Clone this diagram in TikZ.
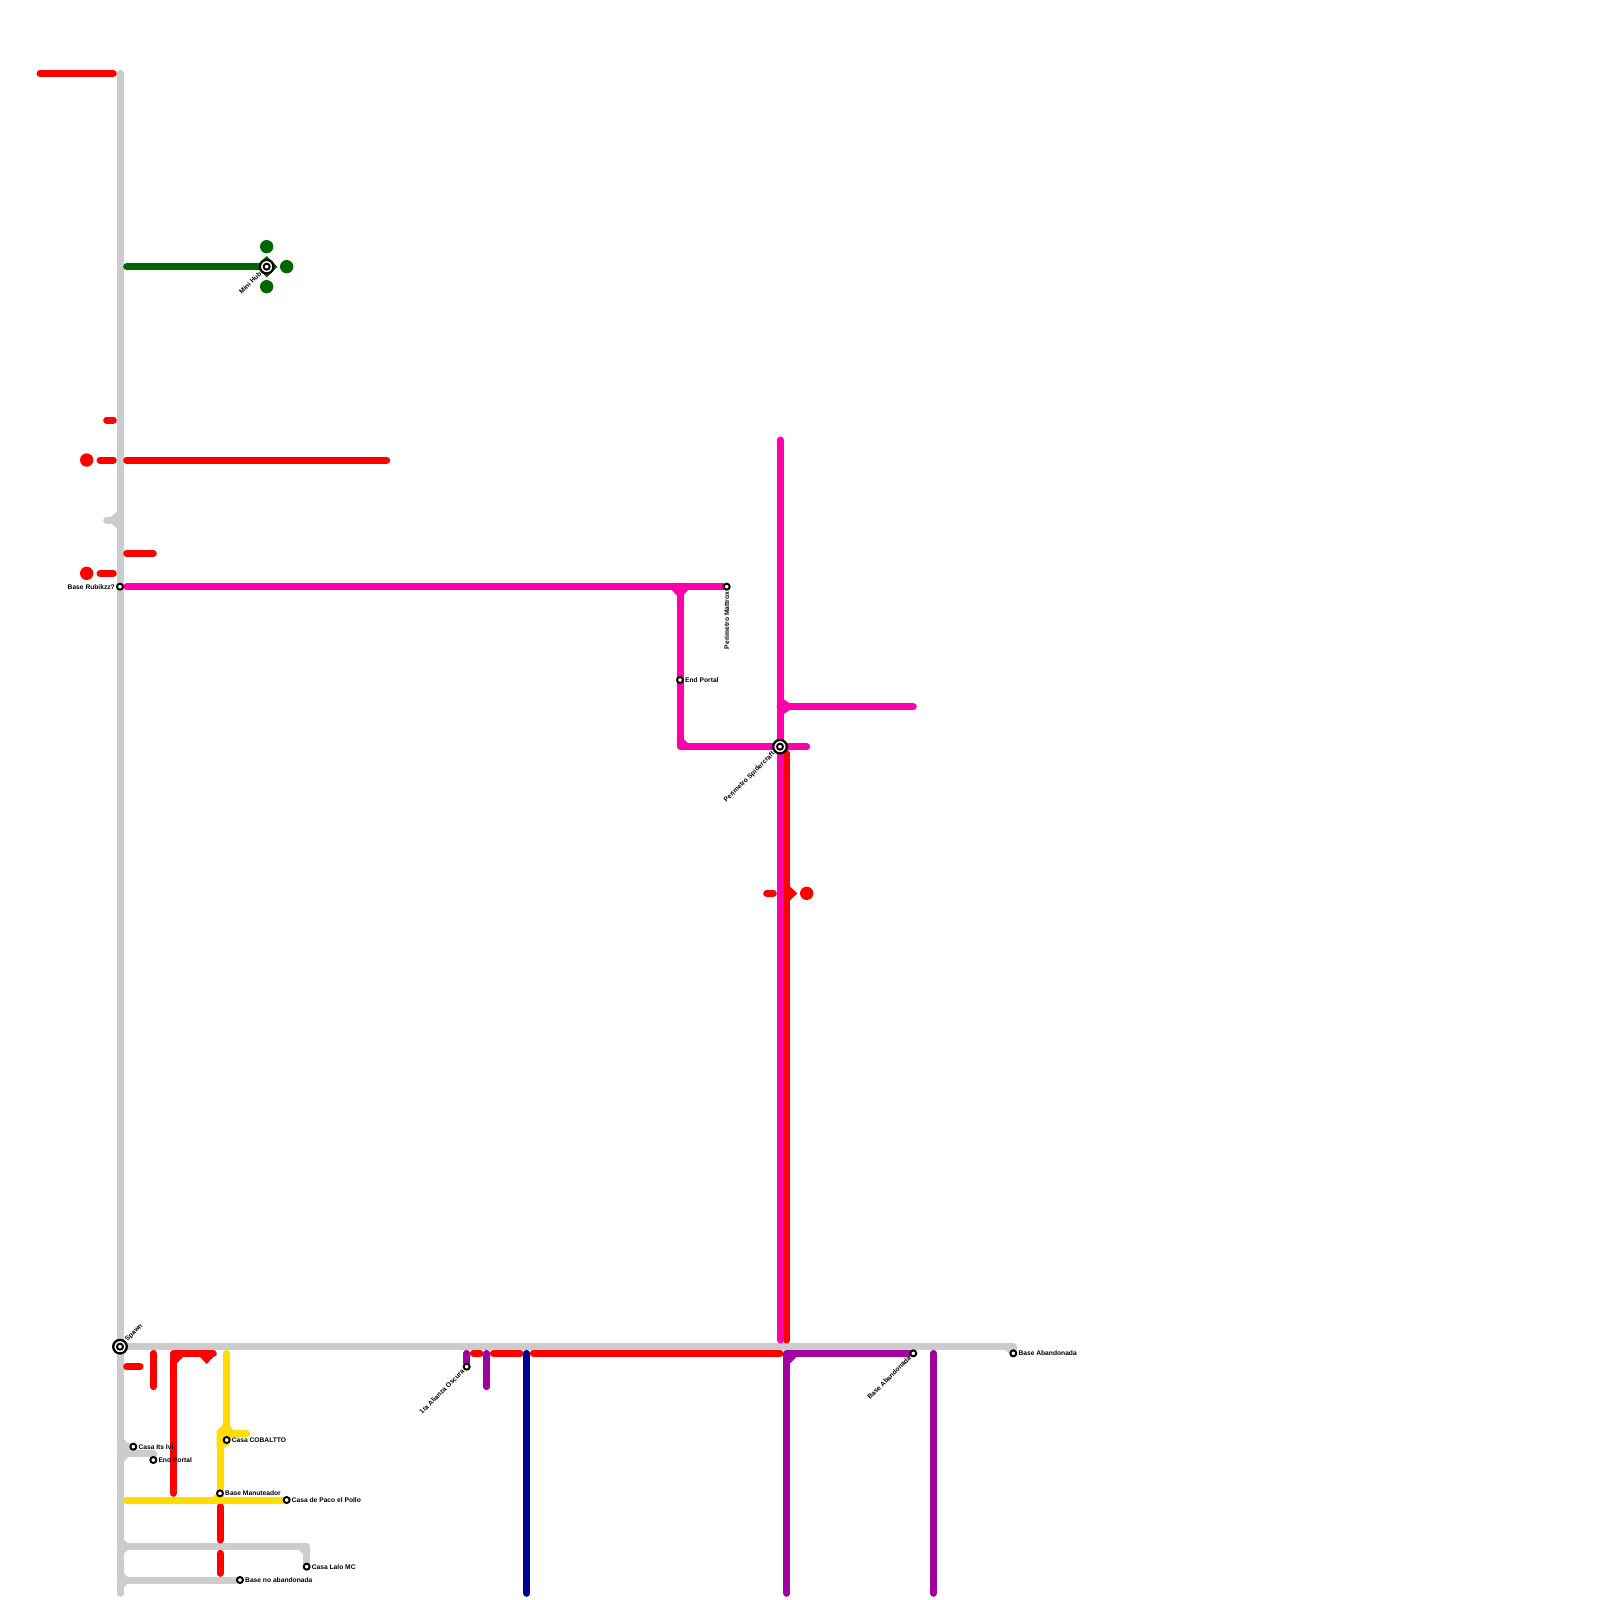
\documentclass[tikz,border=0pt]{standalone}
\usepackage{xcolor}
\usepackage{fontspec}
\setmainfont{Liberation Sans}
\usetikzlibrary{positioning, backgrounds}
\definecolor{railgray}{RGB}{204,204,204}
\definecolor{railred}{RGB}{255,0,0}
\definecolor{railpink}{RGB}{255,0,170}
\definecolor{railpurple}{RGB}{160,0,160}
\definecolor{railblue}{RGB}{0,0,153}
\definecolor{railyellow}{RGB}{255,221,0}
\definecolor{railgreen}{RGB}{0,102,0}
\tikzset{
  rail/.style={line width=0.35cm, line cap=round, line join=round},
  grayline/.style={rail, color=railgray},
  redline/.style={rail, color=railred},
  pinkline/.style={rail, color=railpink},
  purpleline/.style={rail, color=railpurple},
  blueline/.style={rail, color=railblue},
  yellowline/.style={rail, color=railyellow},
  greenline/.style={rail, color=railgreen},
  stn/.style={circle, draw=black, fill=white, line width=2.8pt, minimum size=0.3cm, inner sep=0pt},
  hubstn/.style={stn, line width=3.2pt, minimum size=0.68cm,
    path picture={\draw[line width=2.8pt] (path picture bounding box.center) circle (0.15cm);}},
  dot/.style={circle, minimum size=0.6667cm, inner sep=0pt},
  lbl/.style={font=\fontsize{9.5}{11}\selectfont\bfseries, inner sep=1.5pt, text=black},
}
\begin{document}
\begin{tikzpicture}[x=0.33333cm, y=-0.33333cm]
  \useasboundingbox (0,0) rectangle (240,240);
  % stations
  \node[hubstn] (spawn) at (18,202) {};
  \node[hubstn] (minihub) at (40,40) {};
  \node[hubstn] (spider) at (117,112) {};
  \node[stn] (rubikzz) at (18,88) {};
  \node[stn] (mattrox) at (109,88) {};
  \node[stn] (endportal) at (102,102) {};
  \node[stn] (itsivi) at (20,217) {};
  \node[stn] (endportalb) at (23,219) {};
  \node[stn] (cobaltto) at (34,216) {};
  \node[stn] (manuteador) at (33,224) {};
  \node[stn] (paco) at (43,225) {};
  \node[stn] (lalo) at (46,235) {};
  \node[stn] (noaband) at (36,237) {};
  \node[stn] (alianza) at (70,205) {};
  \node[stn] (abandleft) at (137,203) {};
  \node[stn] (abandright) at (152,203) {};
  % labels
  \node[lbl, rotate=45, anchor=west] (spawnlbl) at (spawn.45) {Spawn};
  \node[lbl, rotate=45, anchor=east] (minihublbl) at (minihub.225) {Mini Hub};
  \node[lbl, rotate=45, anchor=east] (spiderlbl) at (spider.225) {Perimetro Spidercraft};
  \node[lbl, rotate=90, anchor=east] (mattroxlbl) at (mattrox.south) {Perimetro Mattrox};
  \node[lbl, left=0pt of rubikzz] (rubikzzlbl) {Base Rubikzz?};
  \node[lbl, right=0pt of endportal] (endportallbl) {End Portal};
  \node[lbl, right=0pt of itsivi] (itsivilbl) {Casa Its Ivi};
  \node[lbl, right=0pt of endportalb] (endportalblbl) {End Portal};
  \node[lbl, right=0pt of cobaltto] (cobalttolbl) {Casa COBALTTO};
  \node[lbl, right=0pt of manuteador] (manuteadorlbl) {Base Manuteador};
  \node[lbl, right=0pt of paco] (pacolbl) {Casa de Paco el Pollo};
  \node[lbl, right=0pt of lalo] (lalolbl) {Casa Lalo MC};
  \node[lbl, right=0pt of noaband] (noabandlbl) {Base no abandonada};
  \node[lbl, right=0pt of abandright] (abandrightlbl) {Base Abandonada};
  \node[lbl, rotate=45, anchor=east] (abandleftlbl) at (abandleft.225) {Base Abandonada};
  \node[lbl, rotate=45, anchor=east] (alianzalbl) at (alianza.225) {1ra Alianza Oscura};
  % free line ends
  \coordinate (graytop) at (18,11); \coordinate (graybot) at (18,239);
  \coordinate (grayend) at (152,202); \coordinate (graystub) at (16,78); \coordinate (graystubb) at (18,78);
  \coordinate (ivia) at (18,217); \coordinate (portala) at (18,218); \coordinate (portalb) at (23,218);
  \coordinate (laloa) at (18,232); \coordinate (lalob) at (46,232); \coordinate (nobanda) at (18,237);
  \coordinate (rda) at (6,11); \coordinate (rdb) at (17,11);
  \coordinate (rdc) at (16,63); \coordinate (rdd) at (17,63);
  \coordinate (rde) at (15,69); \coordinate (rdf) at (17,69);
  \coordinate (rdg) at (19,69); \coordinate (rdh) at (58,69);
  \coordinate (rdi) at (19,83); \coordinate (rdj) at (23,83);
  \coordinate (rdk) at (15,86); \coordinate (rdl) at (17,86);
  \coordinate (rdm) at (118,113); \coordinate (rdn) at (118,201);
  \coordinate (rdo) at (115,134); \coordinate (rdp) at (116,134);
  \coordinate (rdq) at (19,205); \coordinate (rdr) at (21,205);
  \coordinate (rds) at (23,203); \coordinate (rdt) at (23,208);
  \coordinate (rdu) at (26,224); \coordinate (rdv) at (26,203); \coordinate (rdw) at (32,203);
  \coordinate (rdx) at (33,226); \coordinate (rdy) at (33,231);
  \coordinate (rdz) at (33,233); \coordinate (rdaa) at (33,236);
  \coordinate (rdab) at (71,203); \coordinate (rdac) at (72,203);
  \coordinate (rdad) at (74,203); \coordinate (rdae) at (78,203);
  \coordinate (rdaf) at (80,203); \coordinate (rdag) at (117,203);
  \coordinate (pka) at (19,88); \coordinate (pkb) at (102,88); \coordinate (pkc) at (102,112);
  \coordinate (pkd) at (121,112); \coordinate (pke) at (117,66); \coordinate (pkf) at (117,201);
  \coordinate (pkg) at (117,106); \coordinate (pkh) at (137,106);
  \coordinate (pua) at (70,203); \coordinate (pub) at (73,203); \coordinate (puc) at (73,208);
  \coordinate (pud) at (118,239); \coordinate (pue) at (118,203);
  \coordinate (puf) at (140,203); \coordinate (pug) at (140,239);
  \coordinate (bla) at (79,203); \coordinate (blb) at (79,239);
  \coordinate (yla) at (34,203); \coordinate (ylb) at (34,215); \coordinate (ylc) at (37,215);
  \coordinate (yld) at (33,215); \coordinate (yle) at (19,225); \coordinate (ylf) at (33,225);
  \coordinate (gra) at (19,40);
  % round markers
  \node[dot, fill=railgreen] (gntop) at (40,37) {};
  \node[dot, fill=railgreen] (gnright) at (43,40) {};
  \node[dot, fill=railgreen] (gnbot) at (40,43) {};
  \node[dot, fill=railred] (rddota) at (13,69) {};
  \node[dot, fill=railred] (rddotb) at (13,86) {};
  \node[dot, fill=railred] (rddotc) at (121,134) {};
  \begin{scope}[on background layer]
    \draw[grayline] (graytop) -- (graybot);
    \draw[grayline] (spawn) -- (grayend) -- (abandright);
    \draw[grayline] (graystub) -- (graystubb);
    \draw[grayline] (ivia) -- (itsivi);
    \draw[grayline] (portala) -- (portalb) -- (endportalb);
    \draw[grayline] (laloa) -- (lalob) -- (lalo);
    \draw[grayline] (nobanda) -- (noaband);
    \fill[railgray] (17.6,76.7) -- (16.4,77.7) -- (16.4,78.3) -- (17.6,79.3) -- cycle;
    \fill[railgray] (18.4,215.7) -- (20.3,217.5) -- (20.3,218.5) -- (19.3,218.5) -- (18.4,219.4) -- cycle;
    \fill[railgray] (18.4,230.75) -- (19.15,231.5) -- (19.15,232.5) -- (18.4,233.25) -- cycle;
    \fill[railgray] (18.4,235.75) -- (19.15,236.5) -- (19.15,237.5) -- (18.4,238.25) -- cycle;
    \fill[railgray] (44.75,232.4) -- (45.6,233.25) -- (45.6,232.4) -- cycle;
    \fill[railgray] (150.75,202.4) -- (151.6,203.25) -- (151.6,202.4) -- cycle;
    \draw[greenline] (gra) -- (minihub);
    \fill[railgreen] (40,38.4) -- (41.6,40) -- (40,41.6) -- (38.4,40) -- cycle;
    \draw[redline] (rda) -- (rdb);
    \draw[redline] (rdc) -- (rdd);
    \draw[redline] (rde) -- (rdf);
    \draw[redline] (rdg) -- (rdh);
    \draw[redline] (rdi) -- (rdj);
    \draw[redline] (rdk) -- (rdl);
    \draw[redline] (rdm) -- (rdn);
    \draw[redline] (rdo) -- (rdp);
    \fill[railred] (118,132.5) -- (119.6,134) -- (118,135.5) -- cycle;
    \draw[redline] (rdq) -- (rdr);
    \draw[redline] (rds) -- (rdt);
    \draw[redline] (rdu) -- (rdv) -- (rdw);
    \fill[railred] (26.4,203.4) -- (27.6,203.4) -- (26.4,204.6) -- cycle;
    \fill[railred] (29.5,203) -- (31,204.6) -- (32.5,203) -- cycle;
    \draw[redline] (rdx) -- (rdy);
    \draw[redline] (rdz) -- (rdaa);
    \draw[redline] (rdab) -- (rdac);
    \draw[redline] (rdad) -- (rdae);
    \draw[redline] (rdaf) -- (rdag);
    \draw[pinkline] (pka) -- (mattrox);
    \draw[pinkline] (pkb) -- (pkc) -- (pkd);
    \draw[pinkline] (pke) -- (pkf);
    \draw[pinkline] (pkg) -- (pkh);
    \fill[railpink] (100.7,88.4) -- (101.6,89.4) -- (102.4,89.4) -- (103.3,88.4) -- cycle;
    \fill[railpink] (102.4,110.7) -- (103.3,111.6) -- (102.4,111.6) -- cycle;
    \fill[railpink] (117.4,104.8) -- (118.6,105.6) -- (118.6,106.4) -- (117.4,107.2) -- cycle;
    \draw[purpleline] (pua) -- (alianza);
    \draw[purpleline] (pub) -- (puc);
    \draw[purpleline] (pud) -- (pue) -- (abandleft);
    \draw[purpleline] (puf) -- (pug);
    \fill[railpurple] (118.4,203.4) -- (119.6,203.4) -- (118.4,204.6) -- cycle;
    \draw[blueline] (bla) -- (blb);
    \draw[yellowline] (yla) -- (cobaltto);
    \draw[yellowline] (ylb) -- (ylc);
    \draw[yellowline] (yld) -- (manuteador);
    \draw[yellowline] (yle) -- (paco);
    \draw[yellowline] (manuteador) -- (ylf);
    \fill[railyellow] (32.5,214.6) -- (34,213.2) -- (35,214.5) -- (34.5,216.5) -- (33.5,217.3) -- (32.5,217) -- cycle;
    \fill[railyellow] (31.8,224.6) -- (32.5,224) -- (33.6,224.6) -- cycle;
  \end{scope}
\end{tikzpicture}
\end{document}
